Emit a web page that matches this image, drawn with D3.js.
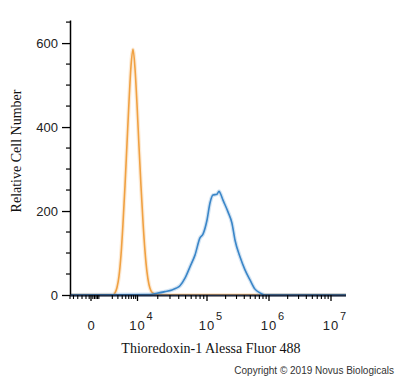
<!DOCTYPE html>
<html>
<head>
<meta charset="utf-8">
<script src="https://cdn.jsdelivr.net/npm/d3@7"></script>
<style>
  body { margin: 0; background: #fff; }
  svg { display: block; }
</style>
</head>
<body>
<svg id="grafica"></svg>
<script>
// histograma de control (naranja) y anticuerpo (azul)
const controlX = [-2000, 2109, 2446, 2821, 3237, 3696, 4206, 4772, 5397, 6093, 6864, 7717, 8665, 9712, 10530, 11290, 12100, 12960, 13880, 14860, 15910, 17610, 19470, 1.75e7]
const controlY = [0, 0, 5, 18, 45, 95, 170, 260, 360, 460, 545, 585, 540, 455, 355, 260, 175, 105, 55, 25, 10, 3, 0, 0]

const muestraX = [-2000, 15380, 19470, 25420, 32040, 36540, 41650, 49030, 57660, 67820, 79720, 87840, 99900, 111800, 125000, 145100, 156300, 162200, 181400, 218500, 253400, 283300, 341100, 410700, 494200, 594900, 715800, 861600, 1.75e7]
const muestraY = [0, 1, 4, 8, 12, 16, 22, 40, 67, 95, 136, 145, 178, 219, 238, 240, 247, 244, 226, 198, 171, 131, 91, 60, 36, 14, 5, 0, 0]

const yMayores = [0, 200, 400, 600]
const yMenores = [50, 100, 150, 250, 300, 350, 450, 500, 550, 650]
const xMayores = [0, 1e4, 1e5, 1e6, 1e7]
const xEtiquetas = ['0', '4', '5', '6', '7']
const xMenores = [-2000, -1500, -1000, -600, -300, -100, 100, 200, 300, 400, 500,
  2000, 3000, 4000, 5000, 6000, 7000, 8000, 9000,
  2e4, 3e4, 4e4, 5e4, 6e4, 7e4, 8e4, 9e4,
  2e5, 3e5, 4e5, 5e5, 6e5, 7e5, 8e5, 9e5,
  2e6, 3e6, 4e6, 5e6, 6e6, 7e6, 8e6, 9e6]

const widthSVG = 400
const heightSVG = 378

let svg = d3.select('#grafica')
    .attr('width', widthSVG)
    .attr('height', heightSVG)

// eje x biexponencial: symlog y luego tramos lineales por decada
let xSym = d3.scaleSymlog().constant(1000).domain([0, 1e7]).range([0, 4])
let xPix = d3.scaleLinear()
    .domain([-2000, 0, 1e4, 1e5, 1e6, 1e7, 1.75e7].map(xSym))
    .range([70, 91, 137.5, 207, 269, 331, 346])
let xScale = (v) => xPix(xSym(v))

let yScale = d3.scaleLinear()
    .domain([0, 655])
    .range([295, 20])

function dibujarCurva(xs, ys, color){
   let puntos = xs.map((x, i) => [xScale(x), yScale(ys[i])])
   let linea = d3.line().curve(d3.curveMonotoneX)

   svg.append('path')
      .attr('d', linea(puntos))
      .attr('fill', 'none')
      .attr('stroke', color)
      .attr('stroke-opacity', 0.22)
      .attr('stroke-width', 4)

   svg.append('path')
      .attr('d', linea(puntos))
      .attr('fill', 'none')
      .attr('stroke', color)
      .attr('stroke-width', 1.6)
}

function dibujarEjes(){
   // eje y
   let yAxis = d3.axisLeft(yScale).tickValues(yMayores).tickSize(8).tickPadding(4).tickSizeOuter(0)
   let gy = svg.append('g')
      .attr('transform', 'translate(70,0)')
      .call(yAxis)
   gy.select('.domain').attr('stroke-width', 1.5)
   gy.selectAll('.tick line').attr('stroke-width', 1.3)
   gy.selectAll('text')
      .style('font-family', '"Liberation Sans", Arial, sans-serif')
      .style('font-size', '13px')
      .attr('fill', '#222')

   gy.selectAll('.menor')
      .data(yMenores)
      .enter()
      .append('line')
      .attr('x1', -4).attr('x2', 0)
      .attr('y1', (d) => yScale(d)).attr('y2', (d) => yScale(d))
      .attr('stroke', '#000')
      .attr('stroke-width', 1.2)

   // eje x
   let gx = svg.append('g')
   gx.append('line')
      .attr('x1', xScale(-2000)).attr('x2', xScale(1.75e7))
      .attr('y1', 295.5).attr('y2', 295.5)
      .attr('stroke', '#1c2a44')
      .attr('stroke-width', 1.8)

   gx.selectAll('.mayor')
      .data(xMayores)
      .enter()
      .append('line')
      .attr('x1', (d) => xScale(d)).attr('x2', (d) => xScale(d))
      .attr('y1', 295).attr('y2', 301)
      .attr('stroke', '#000')
      .attr('stroke-width', 1.3)

   gx.selectAll('.menor')
      .data(xMenores)
      .enter()
      .append('line')
      .attr('x1', (d) => xScale(d)).attr('x2', (d) => xScale(d))
      .attr('y1', 295).attr('y2', 299)
      .attr('stroke', '#000')
      .attr('stroke-width', 1.1)

   let etiquetas = gx.selectAll('.etq')
      .data(xMayores)
      .enter()
      .append('g')
      .attr('transform', (d) => 'translate(' + xScale(d) + ',0)')
      .style('font-family', '"Liberation Sans", Arial, sans-serif')
      .attr('fill', '#222')

   etiquetas.append('text')
      .attr('y', 329.5)
      .attr('text-anchor', 'middle')
      .style('font-size', '13px')
      .style('letter-spacing', (d, i) => i == 0 ? '0px' : '1px')
      .text((d, i) => i == 0 ? '0' : '10')

   etiquetas.filter((d, i) => i > 0)
      .append('text')
      .attr('x', 9)
      .attr('y', 320)
      .style('font-size', '11px')
      .text((d) => xEtiquetas[xMayores.indexOf(d)])
}

function dibujarTextos(){
   svg.append('text')
      .attr('transform', 'translate(21,151) rotate(-90)')
      .attr('text-anchor', 'middle')
      .style('font-family', '"Liberation Serif", "Times New Roman", serif')
      .style('font-size', '14px')
      .attr('fill', '#111')
      .text('Relative Cell Number')

   svg.append('text')
      .attr('x', 211)
      .attr('y', 353)
      .attr('text-anchor', 'middle')
      .style('font-family', '"Liberation Serif", "Times New Roman", serif')
      .style('font-size', '14px')
      .attr('fill', '#111')
      .text('Thioredoxin-1 Alessa Fluor 488')

   svg.append('text')
      .attr('x', 394)
      .attr('y', 374)
      .attr('text-anchor', 'end')
      .style('font-family', '"Liberation Sans", Arial, sans-serif')
      .style('font-size', '10px')
      .attr('fill', '#333')
      .text('Copyright \u00A9 2019 Novus Biologicals')
}

dibujarCurva(controlX, controlY, '#f0a142')
dibujarCurva(muestraX, muestraY, '#3a86c8')
dibujarEjes()
dibujarTextos()
</script>
</body>
</html>
